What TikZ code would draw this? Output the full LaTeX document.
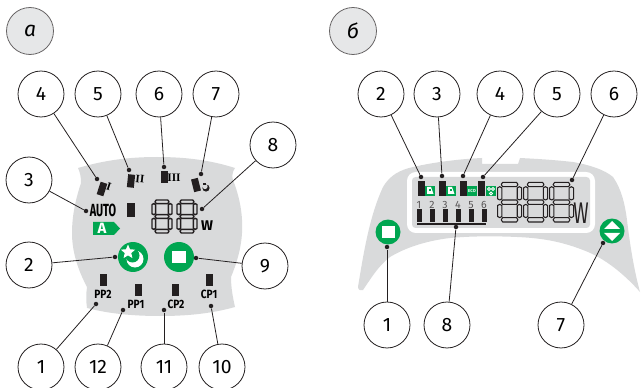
\documentclass[tikz,border=0pt]{standalone}
\usepackage{fontspec}
\setmainfont{Fira Sans}
\newfontfamily\romanfont{Liberation Serif}
\usetikzlibrary{shapes.geometric}
\definecolor{panelgray}{HTML}{D9DADB}
\definecolor{labelgray}{HTML}{E6E7E8}
\definecolor{btngreen}{HTML}{00A651}
\definecolor{inkblack}{HTML}{231F20}

\tikzset{
  num/.style={circle, draw=inkblack, line width=0.45pt, fill=white, minimum size=0.92cm, inner sep=0pt, font=\fontsize{11}{12}\selectfont},
  tag/.style={circle, draw=inkblack!70, line width=0.45pt, fill=labelgray, minimum size=0.94cm, inner sep=0pt, font=\fontsize{12}{13}\selectfont\itshape},
  pin/.style={circle, fill=inkblack, minimum size=0.09cm, inner sep=0pt},
  conn/.style={draw=inkblack, line width=0.45pt},
  bar/.style={rectangle, fill=inkblack, inner sep=0pt},
  roundbtn/.style={circle, fill=btngreen, inner sep=0pt},
  smallcap/.style={font=\fontsize{6.8}{7}\bfseries\selectfont, inner sep=0pt, xscale=0.85},
  romancap/.style={font=\fontsize{6.5}{7}\bfseries\romanfont, inner sep=0pt},
  seg/.style={draw=inkblack, line width=0.8pt, fill=panelgray, line join=round},
  digit/.pic={
    \foreach \yy in {1.8, 16.5, 31.2}
      \path[seg] (4.2,\yy-1.8) -- (15.8,\yy-1.8) -- (17,\yy) -- (15.8,\yy+1.8) -- (4.2,\yy+1.8) -- (3,\yy) -- cycle;
    \foreach \xx in {1.8, 18.2}
      \foreach \yy in {3.6, 18.3}
        \path[seg] (\xx-1.8,\yy+1) -- (\xx,\yy) -- (\xx+1.8,\yy+1) -- (\xx+1.8,\yy+10.1) -- (\xx,\yy+11.1) -- (\xx-1.8,\yy+10.1) -- cycle;
  }
}

\begin{document}
\begin{tikzpicture}[x=0.02cm, y=-0.02cm]
\useasboundingbox (0,0) rectangle (642,388);

% panel a
\fill[panelgray] (78,168) .. controls (105,160) and (130,157) .. (157,157)
  .. controls (185,157) and (210,160) .. (235,168)
  .. controls (232,172) and (232,177) .. (233,180)
  .. controls (240,198) and (243,215) .. (242,233)
  .. controls (241,250) and (236,265) .. (231,277)
  .. controls (231,288) and (233,298) .. (235,307)
  .. controls (210,314) and (185,316) .. (160,316)
  .. controls (135,316) and (110,314) .. (87,308)
  .. controls (86,301) and (86,294) .. (87,287)
  .. controls (78,270) and (72,252) .. (72,233)
  .. controls (72,215) and (76,198) .. (81,183)
  .. controls (81,177) and (80,172) .. (78,168) -- cycle;

\node[tag] (taga) at (30,31) {а};

\node[num] (a4) at (41,94) {4};
\node[num] (a5) at (98,94) {5};
\node[num] (a6) at (159,94) {6};
\node[num] (a7) at (216,94) {7};
\node[num] (a8) at (273,145) {8};
\node[num] (a3) at (29,180) {3};
\node[num] (a2) at (29,265) {2};
\node[num] (a9) at (265,266) {9};
\node[num] (a1) at (41,367) {1};
\node[num] (a12) at (98,367) {12};
\node[num] (a11) at (164,367) {11};
\node[num] (a10) at (222,367) {10};

\node[bar, minimum width=0.14cm, minimum height=0.26cm, rotate=-18] (b1) at (102,189) {};
\node[bar, minimum width=0.14cm, minimum height=0.26cm, rotate=-6] (b2) at (131,181) {};
\node[bar, minimum width=0.14cm, minimum height=0.26cm] (b3) at (164,177) {};
\node[bar, minimum width=0.14cm, minimum height=0.26cm, rotate=14] (b4) at (196,185) {};
\node[bar, minimum width=0.17cm, minimum height=0.30cm] (b5) at (131,210) {};

\node[romancap, rotate=-18] (r1) at (109,187) {I};
\node[romancap, rotate=-6] (r2) at (140,179) {II};
\node[romancap] (r3) at (174,178) {III};
\fill[inkblack] (206,188) circle [radius=3.6];
\fill[panelgray] (205,186.5) circle [radius=2.6];
\fill[inkblack] (203,183) rectangle (206,185);

\node[inner sep=0pt, font=\fontsize{10}{10}\bfseries\selectfont, xscale=0.62] (auto) at (103,210) {AUTO};
\fill[btngreen] (93,222) -- (114,222) -- (120,228.5) -- (114,235) -- (93,235) -- cycle;
\node[inner sep=0pt, text=white, font=\fontsize{8.5}{9}\bfseries\selectfont] (atag) at (102,228.5) {A};

\pic at (152,200) {digit};
\pic at (177,200) {digit};
\node[inner sep=0pt, font=\fontsize{8}{9}\bfseries\selectfont] (watt) at (207,226) {W};

\node[roundbtn, minimum size=0.6cm] (moon) at (133,257) {};
\fill[white] (135,259) circle [radius=8.5];
\fill[btngreen] (132.5,255.5) circle [radius=7];
\node[star, star points=5, star point ratio=2.2, fill=white, inner sep=0pt, minimum size=0.3cm] (starry) at (128,252) {};

\node[roundbtn, minimum size=0.6cm] (stopa) at (179,257) {};
\node[fill=white, inner sep=0pt, minimum width=0.27cm, minimum height=0.24cm] (stopin) at (179,257) {};

\node[bar, minimum width=0.14cm, minimum height=0.26cm] (pp2) at (103,280) {};
\node[bar, minimum width=0.14cm, minimum height=0.26cm] (pp1) at (138,290) {};
\node[bar, minimum width=0.14cm, minimum height=0.26cm] (cp2) at (175,290) {};
\node[bar, minimum width=0.14cm, minimum height=0.26cm] (cp1) at (209,280) {};
\node[smallcap] (lpp2) at (103,294) {PP2};
\node[smallcap] (lpp1) at (136,304) {PP1};
\node[smallcap] (lcp2) at (176,304) {CP2};
\node[smallcap] (lcp1) at (209,294) {CP1};

\node[pin] (d4) at (97,179) {};
\node[pin] (d5) at (129,170) {};
\node[pin] (d6) at (164,167) {};
\node[pin] (d7) at (201,174) {};
\node[pin] (d8) at (202,209) {};
\node[pin] (d3) at (86,211) {};
\node[pin] (d2) at (115,257) {};
\node[pin] (d9) at (196,258) {};
\node[pin] (d1) at (96,304) {};
\node[pin] (d12) at (123,310) {};
\node[pin] (d11) at (164,310) {};
\node[pin] (d10) at (211,306) {};

\foreach \n in {1,...,12}
  \draw[conn] (a\n) -- (d\n);

% panel b
\fill[panelgray] (358,287) .. controls (364,250) and (370,215) .. (383,187)
  .. controls (390,175) and (400,170) .. (413,167)
  .. controls (435,162) and (460,159) .. (482,158) -- (482,164) -- (518,164) -- (520,158)
  .. controls (540,159) and (555,160) .. (573,162)
  .. controls (590,165) and (605,170) .. (613,177)
  .. controls (622,190) and (625,205) .. (627,220)
  .. controls (630,245) and (634,270) .. (640,292)
  .. controls (625,275) and (605,258) .. (583,250)
  .. controls (560,241) and (540,238) .. (517,237)
  .. controls (495,236) and (472,236) .. (450,238)
  .. controls (425,241) and (405,248) .. (390,257)
  .. controls (378,266) and (370,280) .. (363,290)
  .. controls (361,291) and (358,290) .. (358,287) -- cycle;
\fill[white, rounded corners=5pt] (407,172) rectangle (595,233);
\fill[panelgray, rounded corners=2pt] (412,177) rectangle (590,228);

\node[tag] (tagb) at (353,31) {б};

\node[num] (b2n) at (381,94) {2};
\node[num] (b3n) at (437,94) {3};
\node[num] (b4n) at (500,94) {4};
\node[num] (b5n) at (557,94) {5};
\node[num] (b6n) at (614,94) {6};
\node[num] (b1n) at (387,325) {1};
\node[num] (b8n) at (447,325) {8};
\node[num] (b7n) at (561,325) {7};

\foreach \x in {421.5,442,463,481.5}
  \node[bar, minimum width=0.14cm, minimum height=0.30cm] at (\x,188.5) {};
\foreach \x in {430,451,472,491}
  \node[fill=btngreen, inner sep=0pt, minimum width=0.19cm, minimum height=0.19cm] at (\x,191) {};
\foreach \x in {430,451}{
  \fill[white] (\x-3,187) -- (\x+1,187) -- (\x+3.5,194) -- (\x-3,194) -- cycle;
  \fill[btngreen] (\x-1.5,189) rectangle (\x+0.5,191);
}
\node[inner sep=0pt, text=white, font=\fontsize{2.5}{3}\bfseries\selectfont] (eco) at (472,191) {ECO};
\draw[white, line width=0.5pt] (489,189) circle [radius=1.5] (493,189) circle [radius=1.5] (491,193.5) circle [radius=1.5];

\foreach \i/\x in {1/419,2/432,3/445,4/458,5/471,6/484}{
  \node[inner sep=0pt, text=inkblack!75, font=\fontsize{6}{6}\selectfont] (n\i) at (\x,205) {\i};
  \node[bar, minimum width=0.1cm, minimum height=0.26cm] (m\i) at (\x,215.5) {};
}
\draw[inkblack, line width=0.7pt] (417,224) -- (486,224);

\begin{scope}[x=0.024cm, y=-0.024cm, seg/.append style={line width=0.6pt}]
\pic at (414.7,152) {digit};
\pic at (436.4,152) {digit};
\pic at (458,152) {digit};
\end{scope}
\node[inner sep=0pt, text=inkblack, font=\fontsize{17}{17}\selectfont, xscale=0.62] (wattb) at (581,213) {W};

\node[roundbtn, minimum size=0.5cm] (stopb) at (388,232) {};
\node[fill=white, inner sep=0pt, minimum width=0.26cm, minimum height=0.24cm] (stopbin) at (388,232) {};
\node[roundbtn, minimum size=0.5cm] (updown) at (612,231) {};
\fill[white] (612,221) -- (620,229) -- (604,229) -- cycle;
\fill[white] (612,241) -- (620,233) -- (604,233) -- cycle;

\node[pin] (e1) at (387,247) {};
\node[pin] (e2) at (421,177) {};
\node[pin] (e3) at (442,176) {};
\node[pin] (e4) at (463,176) {};
\node[pin] (e5) at (483,177) {};
\node[pin] (e6) at (572,180) {};
\node[pin] (e7) at (603,243) {};
\node[pin] (e8) at (456,227) {};

\foreach \n in {1,...,8}
  \draw[conn] (b\n n) -- (e\n);

\end{tikzpicture}
\end{document}
